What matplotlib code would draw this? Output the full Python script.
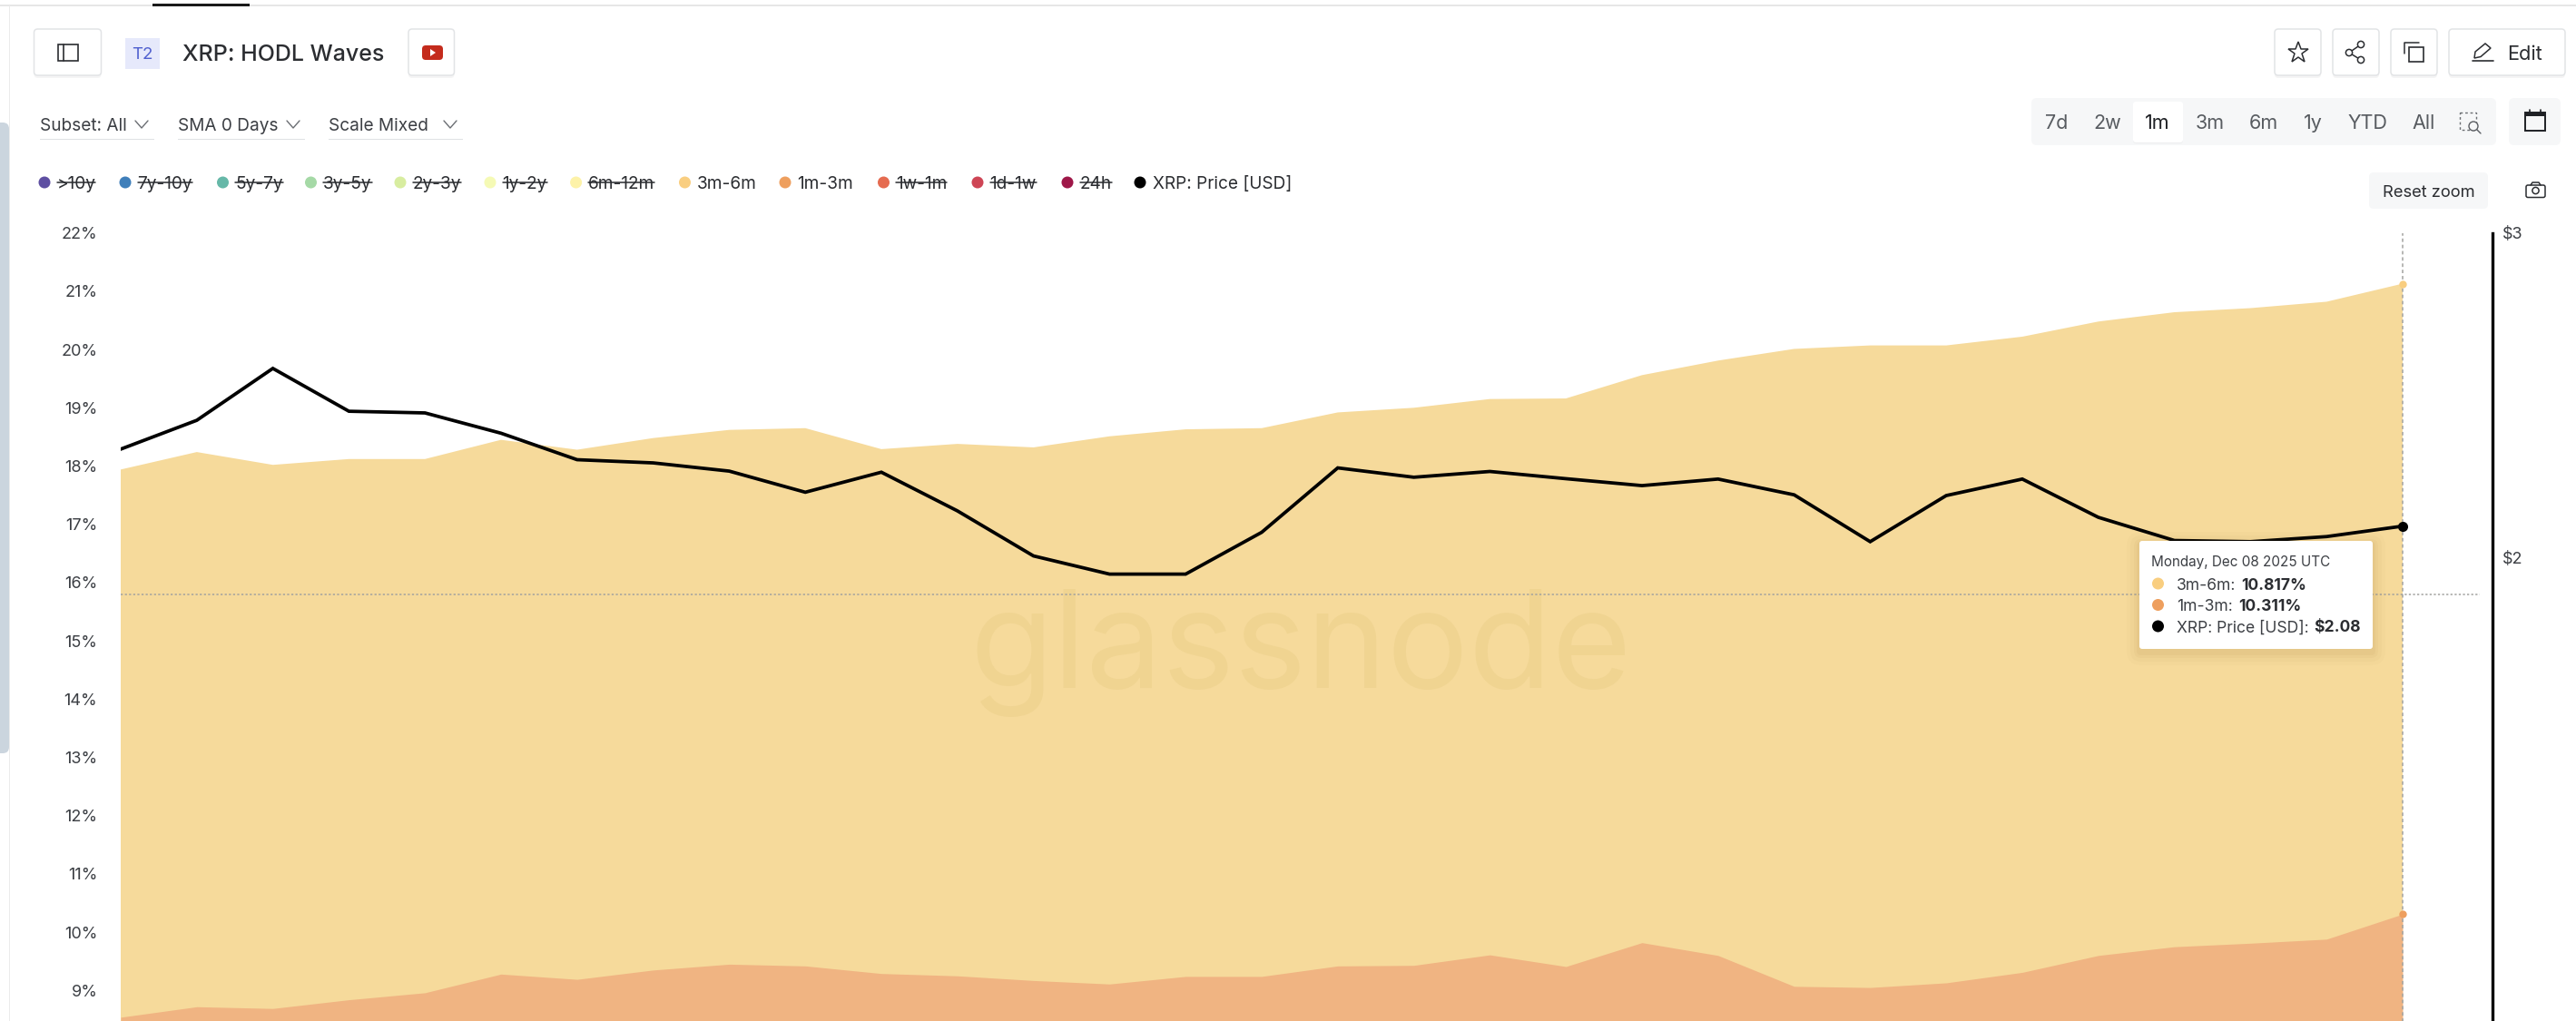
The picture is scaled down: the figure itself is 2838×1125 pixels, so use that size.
import matplotlib
matplotlib.use('Agg')
import matplotlib.pyplot as plt
import numpy as np
from matplotlib.patches import FancyBboxPatch, Rectangle, Circle, Polygon

plt.rcParams['font.family'] = ['Inter', 'DejaVu Sans']

# datos (31 dias hasta Dec 08 2025)
dias = np.arange(31)
top_3m_6m = [17.94, 18.24, 18.02, 18.12, 18.12, 18.45, 18.28, 18.48, 18.62, 18.65,
             18.29, 18.38, 18.32, 18.51, 18.63, 18.65, 18.92, 19.00, 19.15, 19.16,
             19.56, 19.81, 20.01, 20.07, 20.07, 20.22, 20.48, 20.64, 20.71, 20.82, 21.13]
top_1m_3m = [8.54, 8.72, 8.69, 8.84, 8.96, 9.28, 9.19, 9.35, 9.45, 9.42,
             9.29, 9.25, 9.17, 9.11, 9.24, 9.24, 9.42, 9.43, 9.61, 9.41,
             9.82, 9.60, 9.07, 9.05, 9.13, 9.31, 9.60, 9.75, 9.81, 9.88, 10.31]
precio = [2.290, 2.374, 2.533, 2.401, 2.396, 2.336, 2.260, 2.251, 2.228, 2.170,
          2.225, 2.120, 2.004, 1.959, 1.959, 2.064, 2.237, 2.211, 2.227, 2.207,
          2.188, 2.206, 2.163, 2.040, 2.161, 2.206, 2.103, 2.043, 2.040, 2.053, 2.08]
ticks_pct = list(range(9, 23))
ticks_usd = [2, 3]
cruz_pct = 15.8

nombres = ['>10y', '7y-10y', '5y-7y', '3y-5y', '2y-3y', '1y-2y', '6m-12m', '3m-6m',
           '1m-3m', '1w-1m', '1d-1w', '24h', 'XRP: Price [USD]']
colores = ['#5E4FA2', '#3F7FBA', '#66B8A8', '#A5D9A6', '#D8EDA0', '#F5FAB5', '#FDF2A8',
           '#F9CE80', '#EE9F5E', '#E56B50', '#CE4555', '#9E1748', '#000000']
tachados = [True] * 7 + [False, False] + [True] * 3 + [False]
dot_x = [49, 138, 245.5, 342.5, 441, 540, 634.6, 754.5, 865, 973.5, 1077, 1176, 1256]
rangos = ['7d', '2w', '1m', '3m', '6m', '1y', 'YTD', 'All']
rangos_x = [2266, 2322, 2377, 2435, 2494, 2548, 2608, 2670]

BAND_TOP = '#F6DA9B'
BAND_LOW = '#F0B482'
TXT = '#3C3F44'

W, H = 2838, 1125
fig = plt.figure(figsize=(W / 100, H / 100), dpi=100, facecolor='white')

# ejes del grafico: x 133..2746 px, y 256.7..1125 px
px_dia = (2647 - 133) / 30
ax = fig.add_axes([133 / W, 0, (2746 - 133) / W, (H - 256.7) / H])
ax.set_xlim(0, (2746 - 133) / px_dia)
ax.set_ylim(22 - (H - 256.7) / 64.2, 22)
ax.fill_between(dias, 0, top_3m_6m, color=BAND_TOP, lw=0, zorder=1)
ax.fill_between(dias, 0, top_1m_3m, color=BAND_LOW, lw=0, zorder=2)
ax.set_yticks(ticks_pct)
ax.set_yticklabels([f'{t}%' for t in ticks_pct], fontsize=13, color=TXT)
ax.tick_params(axis='y', length=0, pad=18.5)
ax.set_xticks([])
for s in ax.spines.values():
    s.set_visible(False)
ax.patch.set_visible(False)

ax.axhline(cruz_pct, xmax=(2732 - 133) / (2746 - 133), color='#A3A3A0', lw=1.1,
           ls=(0, (1.5, 1.5)), zorder=3)
ax.plot([30, 30], [8, 22], color='#A3A3A0', lw=1.1, ls=(0, (2.5, 2)), zorder=3)
ax.plot(30, top_3m_6m[-1], 'o', color=colores[7], ms=6, mew=0, clip_on=False, zorder=4)
ax.plot(30, top_1m_3m[-1], 'o', color=colores[8], ms=6, mew=0, clip_on=False, zorder=4)

# precio en eje derecho logaritmico
ax2 = ax.twinx()
ax2.set_yscale('log')
ax2.set_ylim(3 * np.exp(-(H - 256.7) / 882), 3)
ax2.plot(dias, precio, color='black', lw=2.7, solid_joinstyle='miter', zorder=5)
ax2.plot(30, precio[-1], 'o', color='black', ms=8, mew=0, clip_on=False, zorder=6)
ax2.set_yticks(ticks_usd)
ax2.set_yticklabels([f'${t}' for t in ticks_usd], fontsize=13, color=TXT)
ax2.minorticks_off()
ax2.tick_params(axis='y', length=0, pad=8)
for k, s in ax2.spines.items():
    s.set_visible(k == 'right')
ax2.spines['right'].set_linewidth(2.4)
ax2.spines['right'].set_color('black')

# capa de interfaz en pixeles
ui = fig.add_axes([0, 0, 1, 1], zorder=10)
ui.set_xlim(0, W)
ui.set_ylim(H, 0)
ui.axis('off')
ui.patch.set_visible(False)

ax.text(1433, 758, 'glassnode', transform=ui.transData, fontsize=108, color='#F0D491',
        ha='center', va='baseline', zorder=1.5)

rend = fig.canvas.get_renderer()


def caja(x0, y0, x1, y1, r=4, fc='white', ec='none', lw=1.0, z=2, alpha=None):
    p = FancyBboxPatch((x0 + r, y0 + r), x1 - x0 - 2 * r, y1 - y0 - 2 * r,
                       boxstyle=f'round,pad={r}', fc=fc, ec=ec, lw=lw, zorder=z, alpha=alpha)
    ui.add_patch(p)
    return p


def boton(x0, y0, x1, y1):
    caja(x0, y0 + 2, x1, y1 + 3, fc='#000000', alpha=0.04, z=1)
    caja(x0, y0, x1, y1, ec='#E2E4E6', lw=1.1)


def linea(xs, ys, c='#2B2D31', lw=1.5, **kw):
    ui.plot(xs, ys, color=c, lw=lw, solid_capstyle='round', zorder=4, **kw)


def texto(x, y, s, size=13.7, c=TXT, z=5, **kw):
    return ui.text(x, y, s, fontsize=size, color=c, va='baseline', zorder=z, **kw)


# barra superior y lateral
ui.add_patch(Rectangle((0, 5), W, 2, fc='#E6E6E6', ec='none'))
ui.add_patch(Rectangle((168, 4), 107, 3, fc='#1A1A1A', ec='none', zorder=2))
ui.add_patch(Rectangle((10, 6), 1, H - 6, fc='#EBEBEB', ec='none'))
caja(-8, 135, 10, 830, r=7, fc='#CBD5DE')

# cabecera izquierda
boton(37.5, 32, 111.5, 83)
ui.add_patch(Rectangle((64, 49), 22, 18, fc='none', ec='#2B2D31', lw=1.2, zorder=4))
linea([70, 70], [49, 67], lw=1.2)
ui.add_patch(Rectangle((138, 42), 38, 34, fc='#E6E9FB', ec='none'))
texto(157, 65, 'T2', 13.5, '#5060CF', ha='center')
texto(201, 66.7, 'XRP: HODL Waves', 18.0, '#2B2D31', weight='medium')
boton(450, 32, 500.5, 83)
caja(465, 50, 488, 66, r=4, fc='#C42B1C', z=3)
ui.add_patch(Polygon([(474, 54), (474, 62), (480, 58)], fc='white', ec='none', zorder=4))

# filtros
for x0, x1, chev, s in [(43.5, 170, 156, 'Subset: All'), (196, 336, 323, 'SMA 0 Days'),
                        (362, 510, 496, 'Scale Mixed')]:
    texto(x0, 144.5, s)
    linea([chev - 7, chev, chev + 7], [133, 141, 133], c='#6B6E73', lw=1.0)
    ui.add_patch(Rectangle((x0, 152.5), x1 - x0, 1.5, fc='#DFE1E4', ec='none'))

# leyenda
for x, nom, col, tach in zip(dot_x, nombres, colores, tachados):
    ui.add_patch(Circle((x, 201), 6.5, fc=col, ec='none', zorder=4))
    t = texto(x + 13.5, 208, nom, c='#2B2D31')
    if tach:
        b = t.get_window_extent(rend)
        linea([b.x0, b.x1], [200.7, 200.7], lw=1.1)

# botones derecha
boton(2506, 32, 2557, 83)
boton(2570, 32, 2621, 83)
boton(2634, 32, 2685, 83)
boton(2698, 32, 2826, 83)
ui.plot(2531.5, 58, marker='*', ms=17, mfc='none', mec='#2B2D31', mew=1.1, zorder=4)
linea([2601, 2588, 2601], [49, 58, 66], lw=1.1)
for cx, cy in [(2601, 49), (2588, 58), (2601, 66)]:
    ui.add_patch(Circle((cx, cy), 3.6, fc='white', ec='#2B2D31', lw=1.1, zorder=5))
ui.add_patch(Rectangle((2654, 52), 16, 16, fc='none', ec='#2B2D31', lw=1.2, zorder=4))
linea([2649, 2649, 2665], [59, 47, 47], lw=1.1)
ui.add_patch(Polygon([(2726, 64), (2727, 57), (2738, 48), (2744, 53), (2733, 62.5)],
                     fc='none', ec='#2B2D31', lw=1.1, zorder=4))
linea([2724, 2747], [66.7, 66.7], lw=1.2)
texto(2762.5, 65.7, 'Edit', 15.7, '#2B2D31')

# selector de rango
caja(2238, 108, 2750, 160, r=6, fc='#F6F7F8')
caja(2350, 114, 2405, 158, r=3, fc='#000000', alpha=0.04, z=2)
caja(2350, 112, 2405, 157, r=3, fc='white', z=3)
for x, s in zip(rangos_x, rangos):
    texto(x, 142.5, s, 15.5, '#1F2125' if s == '1m' else '#585C61', ha='center')
ui.add_patch(Rectangle((2710, 124), 18, 19, fc='none', ec='#6B6E73', lw=1.0, ls=(0, (2, 2)), zorder=4))
ui.add_patch(Circle((2725, 139), 5, fc='#F6F7F8', ec='#5A5D62', lw=1.0, zorder=5))
linea([2729, 2733], [143, 147], c='#5A5D62', lw=1.0)
caja(2764, 108, 2821, 160, r=6, fc='#F6F7F8')
ui.add_patch(Rectangle((2782, 124), 22, 20, fc='none', ec='#1F2125', lw=1.4, zorder=4))
ui.add_patch(Rectangle((2782, 124), 22, 4, fc='#1F2125', ec='none', zorder=4))
linea([2787, 2787], [121, 125], c='#1F2125', lw=1.2)
linea([2799, 2799], [121, 125], c='#1F2125', lw=1.2)

# reset zoom y camara
caja(2610, 190, 2741, 230, r=5, fc='#F6F7F8')
texto(2675.5, 216.7, 'Reset zoom', 13.2, '#2B2D31', ha='center')
caja(2783, 204, 2804, 217.5, r=2, ec='#2B2D31', lw=1.1, z=4)
linea([2788, 2790, 2797, 2799], [204, 201, 201, 204], lw=1.1)
ui.add_patch(Circle((2793.5, 210), 3.6, fc='white', ec='#2B2D31', lw=1.1, zorder=5))

# tooltip
for g, a in [(14, 0.02), (10, 0.03), (6, 0.04), (3, 0.05)]:
    caja(2357 - g, 596 + 4 - g, 2614 + g, 715 + 4 + g, r=g + 2, fc='#8A6A2A', alpha=a, z=6)
caja(2357, 596, 2614, 715, r=3, fc='white', z=7)
texto(2370, 624, 'Monday, Dec 08 2025 UTC', 11.0, z=8)
filas = [(649.5, '3m-6m:', '10.817%', colores[7]), (673, '1m-3m:', '10.311%', colores[8]),
         (696.5, 'XRP: Price [USD]:', '$2.08', '#000000')]
for y, a, b, col in filas:
    ui.add_patch(Circle((2377.5, y - 6.5), 6.5, fc=col, ec='none', zorder=8))
    t = texto(2398, y, a, 12.6, z=8)
    fin = t.get_window_extent(rend).x1
    texto(fin + 6, y, b.replace('$', r'\$'), 12.6, '#2B2D31', z=8, weight='bold')

fig.savefig('out.png', dpi=100, facecolor='white')
